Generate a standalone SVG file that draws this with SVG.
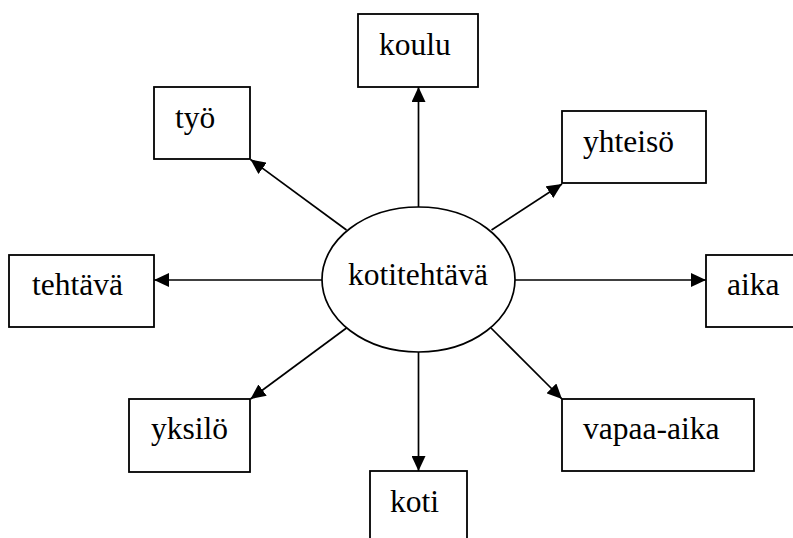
<svg xmlns="http://www.w3.org/2000/svg" width="793" height="538" viewBox="0 0 793 538">
  <style>
    .box { fill: #fff; stroke: #000; stroke-width: 1.8; }
    .hub { fill: #fff; stroke: #000; stroke-width: 1.7; }
    text { font-family: 'Liberation Serif', 'Times New Roman', Times, serif; font-size: 31.5px; fill: #000; }
    .edge { stroke: #000; stroke-width: 1.7; fill: none; marker-end: url(#arrow); }
  </style>
  <defs>
    <marker id="arrow" markerUnits="userSpaceOnUse" markerWidth="15" markerHeight="14" refX="15" refY="7" orient="auto">
      <path d="M0,0 L15,7 L0,14 Z" fill="#000"/>
    </marker>
  </defs>
  <rect width="793" height="538" fill="#fff"/>

  <g id="connectors">
    <line class="edge" x1="418.5" y1="207" x2="418.5" y2="87"/>
    <line class="edge" x1="346.5" y1="230" x2="250.5" y2="159.5"/>
    <line class="edge" x1="491.5" y1="230" x2="562" y2="184"/>
    <line class="edge" x1="322" y1="280" x2="154" y2="280"/>
    <line class="edge" x1="515" y1="280" x2="706" y2="280"/>
    <line class="edge" x1="346.5" y1="328" x2="250.5" y2="399"/>
    <line class="edge" x1="418.5" y1="352" x2="418.5" y2="471"/>
    <line class="edge" x1="491" y1="328" x2="562" y2="399"/>
  </g>

  <g id="kotitehtava">
    <ellipse class="hub" cx="418.5" cy="279.5" rx="96.5" ry="72.5"/>
    <text x="348" y="285">kotitehtävä</text>
  </g>
  <g id="koulu">
    <rect class="box" x="358" y="14" width="120" height="73"/>
    <text x="379" y="55">koulu</text>
  </g>
  <g id="tyo">
    <rect class="box" x="154" y="87" width="96" height="72"/>
    <text x="175" y="128">työ</text>
  </g>
  <g id="yhteiso">
    <rect class="box" x="562" y="111" width="144" height="72"/>
    <text x="583" y="152">yhteisö</text>
  </g>
  <g id="tehtava">
    <rect class="box" x="9" y="255" width="145" height="72"/>
    <text x="32" y="295">tehtävä</text>
  </g>
  <g id="aika">
    <rect class="box" x="706" y="255" width="100" height="72"/>
    <text x="727" y="295">aika</text>
  </g>
  <g id="yksilo">
    <rect class="box" x="129" y="399" width="121" height="73"/>
    <text x="151" y="439">yksilö</text>
  </g>
  <g id="vapaa-aika">
    <rect class="box" x="562" y="399" width="192" height="72"/>
    <text x="583" y="439">vapaa-aika</text>
  </g>
  <g id="koti">
    <rect class="box" x="370" y="471" width="97" height="80"/>
    <text x="390" y="512">koti</text>
  </g>
</svg>
